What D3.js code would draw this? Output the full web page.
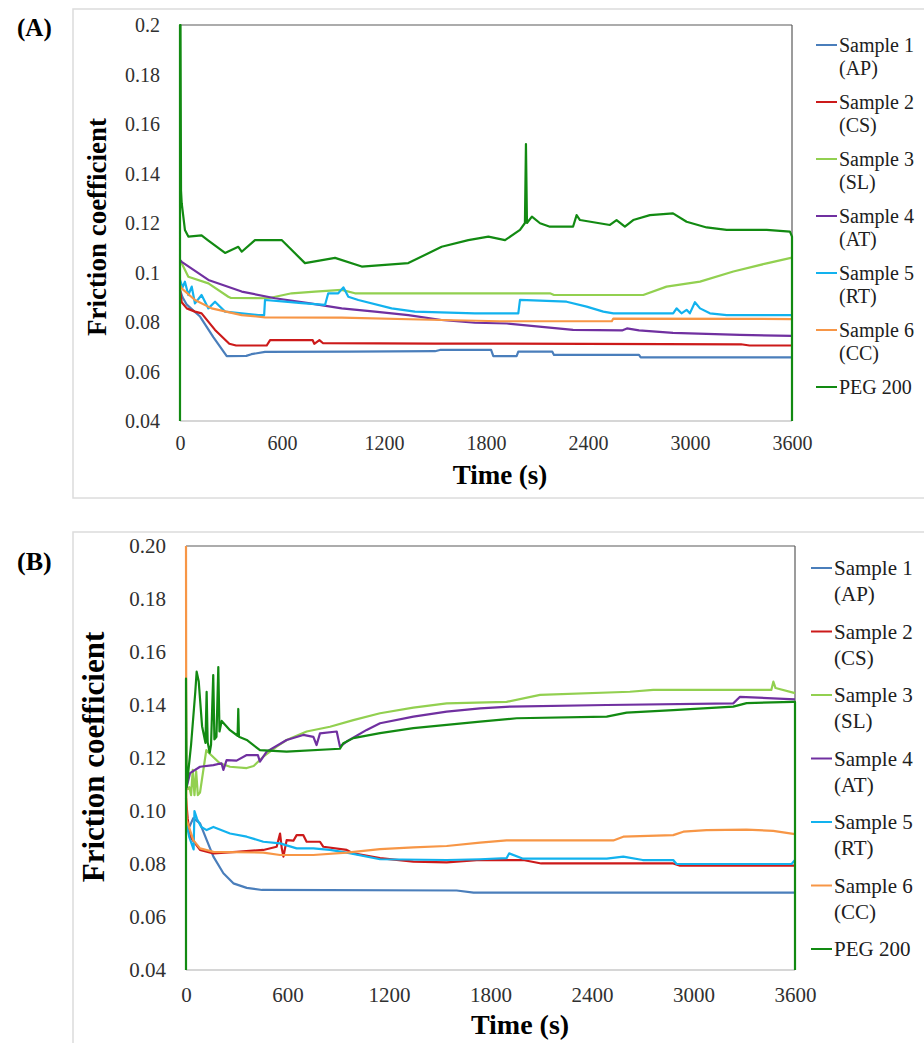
<!DOCTYPE html>
<html>
<head>
<meta charset="utf-8">
<script src="https://cdn.jsdelivr.net/npm/d3@7"></script>
<style>
body { margin: 0; background: #fff; }
svg { display: block; }
</style>
</head>
<body>
<svg id="vis" width="924" height="1043"></svg>
<script>
var serif = "'Liberation Serif', 'Times New Roman', 'DejaVu Serif', serif";

// legend labels and colours
var seriesNames = [["Sample 1", "(AP)"], ["Sample 2", "(CS)"], ["Sample 3", "(SL)"],
  ["Sample 4", "(AT)"], ["Sample 5", "(RT)"], ["Sample 6", "(CC)"], ["PEG 200"]];
var seriesColors = ["#4a7ebb", "#cc1a1a", "#92d050", "#7030a0", "#12b2ee", "#f79646", "#128a12"];

var timeTicks = [0, 600, 1200, 1800, 2400, 3000, 3600];
var frictionTicks = [0.04, 0.06, 0.08, 0.1, 0.12, 0.14, 0.16, 0.18, 0.2];
var tickLabelsA = ["0.04", "0.06", "0.08", "0.1", "0.12", "0.14", "0.16", "0.18", "0.2"];
var tickLabelsB = ["0.04", "0.06", "0.08", "0.10", "0.12", "0.14", "0.16", "0.18", "0.20"];

// panel (A): [time s, friction coefficient]
var aSample1 = [[0,0.093],[15,0.090],[40,0.087],[118,0.0822],[196,0.0739],[275,0.0662],[390,0.0663],[420,0.067],[500,0.0679],[1000,0.068],[1500,0.0682],[1529,0.0687],[1830,0.0687],[1843,0.0662],[1980,0.0662],[1990,0.068],[2190,0.068],[2200,0.0667],[2700,0.0667],[2710,0.0657],[3600,0.0657]];
var aSample2 = [[0,0.093],[10,0.088],[40,0.0855],[88,0.0842],[127,0.0835],[206,0.0768],[290,0.0712],[330,0.0705],[510,0.0705],[530,0.0727],[780,0.0727],[790,0.0712],[820,0.0727],[840,0.0715],[1500,0.0713],[3300,0.071],[3350,0.0705],[3600,0.0705]];
var aSample3 = [[0,0.105],[10,0.1037],[49,0.0983],[167,0.0956],[284,0.0902],[300,0.0897],[520,0.0896],[657,0.0916],[794,0.0923],[951,0.093],[1029,0.0916],[2176,0.0916],[2200,0.0909],[2725,0.0909],[2862,0.0943],[3059,0.0963],[3255,0.1004],[3451,0.1037],[3600,0.106]];
var aSample4 = [[0,0.105],[10,0.1043],[167,0.097],[363,0.0923],[559,0.0896],[755,0.0876],[951,0.0855],[1147,0.0842],[1343,0.0828],[1539,0.0808],[1735,0.0797],[1923,0.0794],[2312,0.0768],[2600,0.0766],[2629,0.0774],[2700,0.0766],[2900,0.0756],[3294,0.0748],[3600,0.0744]];
var aSample5 = [[0,0.097],[15,0.094],[29,0.0963],[49,0.0909],[69,0.0943],[88,0.0875],[127,0.0909],[167,0.0855],[206,0.0882],[265,0.0842],[461,0.0828],[495,0.0828],[500,0.0889],[618,0.0882],[716,0.0876],[853,0.0869],[872,0.0916],[931,0.0916],[961,0.094],[990,0.0902],[1049,0.0889],[1245,0.0855],[1382,0.0842],[1735,0.0835],[1990,0.0835],[2000,0.0889],[2274,0.0882],[2392,0.0862],[2490,0.0842],[2549,0.0835],[2901,0.0835],[2921,0.0855],[2950,0.0835],[2980,0.0849],[2999,0.0835],[3029,0.088],[3059,0.0855],[3117,0.0835],[3216,0.0828],[3600,0.0828]];
var aSample6 = [[0,0.095],[10,0.0936],[88,0.0889],[186,0.0855],[363,0.0828],[500,0.0819],[951,0.0818],[1539,0.0808],[1882,0.0803],[2540,0.0803],[2549,0.0814],[3600,0.0812]];
var aPeg200 = [[0,0.04],[0,0.2],[3,0.2],[6,0.133],[10,0.128],[29,0.1172],[49,0.1145],[127,0.115],[165,0.113],[265,0.1079],[343,0.1104],[363,0.1084],[441,0.1131],[598,0.1131],[735,0.1038],[912,0.1059],[1069,0.1024],[1343,0.1038],[1539,0.1104],[1696,0.1131],[1814,0.1145],[1912,0.1131],[2000,0.1172],[2029,0.12],[2035,0.1519],[2041,0.12],[2070,0.1226],[2118,0.1199],[2176,0.1185],[2312,0.1185],[2333,0.1232],[2353,0.1212],[2529,0.1192],[2568,0.1212],[2617,0.1185],[2666,0.1212],[2764,0.1232],[2900,0.1239],[2980,0.1205],[3098,0.1182],[3216,0.1172],[3451,0.1172],[3588,0.1165],[3600,0.1145],[3600,0.04]];

// panel (B)
var bSample1 = [[0,0.095],[20,0.094],[43,0.0973],[83,0.0953],[122,0.0891],[162,0.0828],[221,0.0765],[280,0.0727],[359,0.071],[450,0.0702],[1600,0.07],[1700,0.0692],[3600,0.0692]];
var bSample2 = [[0,0.105],[10,0.097],[24,0.0903],[83,0.0853],[162,0.084],[299,0.0846],[457,0.0853],[536,0.0865],[556,0.0915],[566,0.086],[576,0.0828],[595,0.089],[635,0.0888],[654,0.0909],[693,0.0909],[713,0.0884],[792,0.0884],[812,0.0865],[950,0.0853],[989,0.084],[1147,0.0822],[1344,0.0809],[1541,0.0806],[1738,0.0815],[1993,0.0815],[2100,0.0802],[2880,0.0802],[2920,0.0794],[3600,0.0794]];
var bSample3 = [[0,0.108],[20,0.109],[30,0.106],[40,0.1155],[50,0.106],[60,0.115],[70,0.106],[83,0.107],[120,0.123],[142,0.1215],[200,0.118],[260,0.1167],[359,0.1162],[400,0.117],[457,0.1205],[536,0.1243],[595,0.1268],[713,0.13],[851,0.1318],[989,0.1343],[1147,0.1369],[1344,0.139],[1541,0.1406],[1895,0.1412],[2093,0.1438],[2624,0.145],[2762,0.1457],[3460,0.1457],[3472,0.1488],[3485,0.1464],[3600,0.1445]];
var bSample4 = [[0,0.108],[24,0.1143],[83,0.1167],[162,0.1173],[210,0.118],[221,0.1155],[240,0.1192],[299,0.119],[359,0.1211],[425,0.1211],[437,0.1186],[477,0.1224],[595,0.1268],[693,0.1287],[753,0.128],[772,0.1249],[792,0.1293],[891,0.13],[910,0.1243],[950,0.1262],[1068,0.1306],[1147,0.1331],[1344,0.1356],[1541,0.1375],[1738,0.1387],[1915,0.1394],[2487,0.14],[3235,0.1406],[3275,0.1431],[3600,0.1421]];
var bSample5 = [[0,0.096],[20,0.09],[45,0.0855],[50,0.1],[65,0.097],[90,0.094],[122,0.0928],[162,0.094],[260,0.0915],[359,0.0903],[457,0.0884],[556,0.0878],[654,0.0859],[753,0.0859],[851,0.0853],[950,0.0843],[1147,0.0818],[1541,0.0815],[1738,0.0818],[1895,0.0822],[1910,0.084],[1993,0.082],[2487,0.082],[2585,0.0828],[2700,0.0815],[2880,0.0815],[2900,0.08],[3580,0.08],[3600,0.0815]];
var bSample6 = [[0,0.2],[2,0.1],[4,0.0966],[43,0.089],[83,0.0859],[162,0.0846],[457,0.0843],[556,0.0834],[753,0.0834],[950,0.0843],[1147,0.0856],[1344,0.0863],[1541,0.0868],[1738,0.0881],[1895,0.0889],[2526,0.0889],[2585,0.0903],[2880,0.0909],[2940,0.0922],[3077,0.0928],[3313,0.093],[3471,0.0925],[3600,0.0913]];
var bPeg200 = [[0,0.04],[0,0.15],[4,0.109],[30,0.125],[55,0.145],[63,0.1526],[75,0.149],[95,0.132],[115,0.1257],[122,0.145],[128,0.126],[140,0.122],[148,0.125],[161,0.1513],[168,0.127],[180,0.128],[191,0.1543],[198,0.13],[211,0.134],[260,0.1305],[305,0.1284],[309,0.1385],[313,0.128],[359,0.1268],[437,0.123],[595,0.1224],[910,0.1235],[930,0.1256],[989,0.1275],[1147,0.1294],[1344,0.1313],[1541,0.1325],[1738,0.1337],[1955,0.135],[2487,0.1356],[2605,0.1371],[2880,0.1381],[3235,0.1394],[3314,0.1407],[3590,0.1412],[3600,0.1412],[3600,0.04]];

var svg = d3.select("#vis");

function drawPanel(p) {
  var g = svg.append("g").attr("font-family", serif);

  // light outer frame
  g.append("rect")
    .attr("x", p.frame[0]).attr("y", p.frame[1])
    .attr("width", p.frame[2]).attr("height", p.frame[3])
    .attr("fill", "none").attr("stroke", "#dcdcdc").attr("stroke-width", 1.5);

  g.append("text")
    .attr("x", 17).attr("y", p.labelY)
    .style("font-family", serif)
    .style("font-weight", "bold").style("font-size", p.labelSize + "px")
    .text(p.label);

  var x = d3.scaleLinear().domain([0, 3600]).range([p.left, p.right]);
  var y = d3.scaleLinear().domain([0.04, 0.2]).range([p.bottom, p.top]);

  // plot border: dark top/right, light bottom axis
  g.append("line").attr("x1", p.left).attr("x2", p.right).attr("y1", p.top).attr("y2", p.top)
    .attr("stroke", "#5a5a5a").attr("stroke-width", 1.2);
  g.append("line").attr("x1", p.right).attr("x2", p.right).attr("y1", p.top).attr("y2", p.bottom)
    .attr("stroke", "#5a5a5a").attr("stroke-width", 1.2);
  g.append("line").attr("x1", p.left).attr("x2", p.right).attr("y1", p.bottom).attr("y2", p.bottom)
    .attr("stroke", "#d6d6d6").attr("stroke-width", 2);

  var yAxis = g.append("g")
    .attr("transform", "translate(" + (p.left - 17) + ",0)")
    .call(d3.axisLeft(y).tickValues(frictionTicks).tickSize(0)
      .tickFormat(function(d, i) { return p.tickLabels[i]; }));
  yAxis.attr("font-family", serif);
  yAxis.select(".domain").remove();
  yAxis.selectAll("text").attr("fill", "#303030")
    .style("font-family", serif).style("font-size", p.tickSize + "px")
    .attr("dy", "0.33em");

  var xAxis = g.append("g")
    .attr("transform", "translate(0," + p.bottom + ")")
    .call(d3.axisBottom(x).tickValues(timeTicks).tickSize(0).tickFormat(d3.format("d")));
  xAxis.attr("font-family", serif);
  xAxis.select(".domain").remove();
  xAxis.selectAll("text").attr("fill", "#303030")
    .style("font-family", serif).style("font-size", p.tickSize + "px")
    .attr("y", p.xTickDy);

  g.append("text")
    .attr("x", p.xTitle[0]).attr("y", p.xTitle[1])
    .attr("text-anchor", "middle")
    .style("font-family", serif)
    .style("font-weight", "bold").style("font-size", p.xTitleSize + "px")
    .text("Time (s)");

  g.append("text")
    .attr("transform", "translate(" + p.yTitle[0] + "," + p.yTitle[1] + ") rotate(-90)")
    .attr("text-anchor", "middle")
    .style("font-family", serif)
    .style("font-weight", "bold").style("font-size", p.yTitleSize + "px")
    .text("Friction coefficient");

  var line = d3.line()
    .x(function(d) { return x(d[0]); })
    .y(function(d) { return y(d[1]); });

  g.selectAll("path.series")
    .data(p.series)
    .enter()
    .append("path")
      .attr("class", "series")
      .attr("d", function(d) { return line(d); })
      .attr("stroke", function(d, i) { return seriesColors[i]; })
      .attr("stroke-width", 2.2)
      .attr("stroke-linejoin", "round")
      .attr("fill", "none");

  // legend
  var leg = g.selectAll("g.leg")
    .data(seriesNames)
    .enter()
    .append("g")
      .attr("class", "leg")
      .attr("transform", function(d, i) { return "translate(" + p.legX + "," + (p.legY + i * p.legGap) + ")"; });
  leg.append("line")
    .attr("x1", 0).attr("x2", 21).attr("y1", 0).attr("y2", 0)
    .attr("stroke", function(d, i) { return seriesColors[i]; })
    .attr("stroke-width", 2);
  var lt = leg.append("text")
    .attr("x", 23)
    .style("font-family", serif)
    .style("font-size", p.legSize + "px")
    .attr("fill", "#202020");
  lt.selectAll("tspan")
    .data(function(d) { return d; })
    .enter()
    .append("tspan")
      .attr("x", 23)
      .attr("y", function(d, i) { return 7 + i * p.legLine; })
      .text(function(d) { return d; });
}

drawPanel({
  frame: [73, 9, 870, 489], label: "(A)", labelY: 36, labelSize: 25,
  left: 180, right: 792, top: 25, bottom: 421,
  tickLabels: tickLabelsA, tickSize: 20, xTickDy: 15,
  xTitle: [500, 484], xTitleSize: 27,
  yTitle: [106, 227], yTitleSize: 27,
  series: [aSample1, aSample2, aSample3, aSample4, aSample5, aSample6, aPeg200],
  legX: 816, legY: 45, legGap: 57, legLine: 23, legSize: 20
});

drawPanel({
  frame: [73, 532, 870, 530], label: "(B)", labelY: 570, labelSize: 26,
  left: 186, right: 795, top: 546, bottom: 970,
  tickLabels: tickLabelsB, tickSize: 21, xTickDy: 17,
  xTitle: [520, 1034], xTitleSize: 28,
  yTitle: [104, 757], yTitleSize: 31,
  series: [bSample1, bSample2, bSample3, bSample4, bSample5, bSample6, bPeg200],
  legX: 811, legY: 568, legGap: 63.5, legLine: 26, legSize: 21
});
</script>
</body>
</html>
